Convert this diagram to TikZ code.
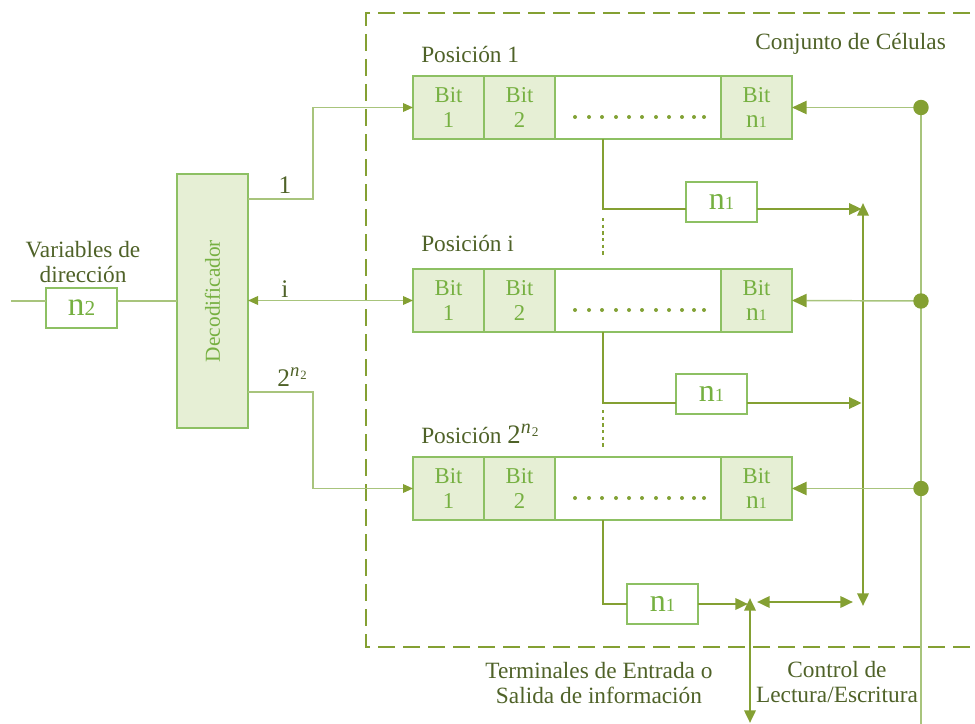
\documentclass[tikz,border=0pt]{standalone}
\usepackage{fontspec}
\setmainfont{Liberation Serif}
\usetikzlibrary{arrows.meta}

\definecolor{darktxt}{HTML}{4F6228}
\definecolor{bitgreen}{HTML}{76B041}
\definecolor{cellfill}{HTML}{E6EFD5}
\definecolor{cellline}{HTML}{8DC063}
\definecolor{busgreen}{HTML}{84A033}
\definecolor{thingreen}{HTML}{A8C47C}

\newcommand{\nsub}[2]{{\fontsize{#1}{#1}\selectfont n}{\fontsize{#2}{#2}\selectfont 1}}
\newcommand{\ntwo}{{\fontsize{25}{25}\selectfont n}{\fontsize{16}{16}\selectfont 2}}
% power of two with subscripted exponent: base size, exponent size, index size
\newcommand{\twopow}[3]{{\fontsize{#1}{#1}\selectfont 2}\raisebox{0.42em}{\fontsize{#2}{#2}\selectfont\itshape n\kern0.05em\raisebox{-0.18em}{\fontsize{#3}{#3}\selectfont\upshape 2}}}

\tikzset{
  cell/.style={draw=cellline, fill=cellfill, line width=1pt, minimum width=53.25pt,
    minimum height=47.25pt, inner sep=0pt, outer sep=0pt, anchor=north west,
    align=center, text=bitgreen, font=\fontsize{17}{18.75}\selectfont},
  dotcell/.style={draw=cellline, fill=white, line width=1pt, minimum width=124.5pt,
    minimum height=47.25pt, inner sep=0pt, outer sep=0pt, anchor=north west},
  nbox/.style={draw=cellline, fill=white, line width=0.9pt, minimum width=53.25pt,
    minimum height=30pt, inner sep=0pt, outer sep=0pt, anchor=north west, text=bitgreen},
  decbox/.style={draw=cellline, fill=cellfill, line width=1pt, minimum width=53.25pt,
    minimum height=190.5pt, inner sep=0pt, outer sep=0pt, anchor=north west},
  lbl/.style={text=darktxt, inner sep=0pt, font=\fontsize{17.5}{20}\selectfont},
  thinline/.style={draw=thingreen, line width=1.1pt},
  busline/.style={draw=busgreen, line width=1.9pt},
  dashframe/.style={draw=busgreen, line width=2pt, dash pattern=on 12.75pt off 6pt},
  dotcol/.style={draw=busgreen, line width=1.9pt, dash pattern=on 2.5pt off 2.5pt},
  smalltip/.style={-{Triangle[length=7.5pt,width=6.5pt,color=busgreen]}},
  bigtip/.style={-{Triangle[length=11pt,width=10pt,color=busgreen]}},
  bustip/.style={-{Triangle[length=9.5pt,width=8.5pt]}},
  busboth/.style={{Triangle[length=9.5pt,width=8.5pt]}-{Triangle[length=9.5pt,width=8.5pt]}},
}

% one register row: prefix, top edge
\newcommand{\register}[2]{%
  \node[cell] (#1a) at (413,#2) {Bit\\1};
  \node[cell] (#1b) at (#1a.north east) {Bit\\2};
  \node[dotcell] (#1d) at (#1b.north east) {};
  \node[cell] (#1n) at (#1d.north east) {Bit\\\nsub{19}{12}};
  \foreach \dx in {19,33,46,60,73,86,100,113,126,138,148}
    \fill[busgreen!85!bitgreen] (556+\dx,#2+41) circle (1.5pt);
}

\begin{document}
\begin{tikzpicture}[x=0.75pt,y=-0.75pt]
\useasboundingbox (0,0) rectangle (975,724);

% cell array frame
\draw[dashframe] (995,13) -- (366,13) -- (366,647) -- (995,647);

% registers
\register{ra}{76}
\register{rb}{269}
\register{rc}{457}

% decoder and address input
\node[decbox, label={[rotate=90, text=bitgreen, font=\fontsize{16}{18}\selectfont]center:Decodificador}] (dec) at (177,174) {};
\node[nbox] (nin) at (46,288) {\ntwo};
\coordinate (ain) at (11,301);
\draw[thinline] (ain) -- (ain -| nin.west);
\draw[thinline] (nin.east |- ain) -- (ain -| dec.west);

% decoder outputs
\coordinate (k1) at (313,199);
\coordinate (k3) at (313,392);
\draw[thinline, smalltip] (dec.east |- k1) -- (k1) |- (raa.west);
\draw[thinline, {Triangle[length=7.5pt,width=6.5pt,color=busgreen]}-{Triangle[length=7.5pt,width=6.5pt,color=busgreen]}] (dec.east |- rba.west) -- (rba.west);
\draw[thinline, smalltip] (dec.east |- k3) -- (k3) |- (rca.west);

% output buffers
\node[nbox] (oa) at (686,182) {\nsub{24}{14}};
\node[nbox] (ob) at (676,374) {\nsub{24}{14}};
\node[nbox] (oc) at (627,584) {\nsub{24}{14}};

% data bus
\coordinate (bustop) at (863,203);
\coordinate (busbot) at (863,606);
\draw[busline, busboth] (bustop) -- (busbot);

\coordinate (ta) at (603,209);
\coordinate (tb) at (603,403);
\coordinate (tc) at (603,604);
\draw[busline] (rad.south -| ta) -- (ta) -- (oa.west |- ta);
\draw[busline, bustip] (oa.east |- ta) -- ([xshift=-1pt]bustop |- ta);
\draw[busline] (rbd.south -| tb) -- (tb) -- (ob.west |- tb);
\draw[busline, bustip] (ob.east |- tb) -- ([xshift=-1pt]bustop |- tb);
\draw[busline] (rcd.south -| tc) -- (tc) -- (oc.west |- tc);
\coordinate (iojoin) at (748,604);
\draw[busline, bustip] (oc.east |- tc) -- (iojoin);

% input/output terminal and link to the bus
\coordinate (iotop) at (750,598);
\coordinate (iobot) at (750,723);
\draw[busline, busboth] (iotop) -- (iobot);
\coordinate (lka) at (757,602);
\coordinate (lkb) at (853,602);
\draw[busline, busboth] (lka) -- (lkb);

% continuation marks between rows
\draw[dotcol] (603,218) -- (603,255);
\draw[dotcol] (603,410) -- (603,447);

% read/write control
\coordinate (ca) at (921,107.5);
\coordinate (cb) at (921,301);
\coordinate (cc) at (921,488.5);
\coordinate (cbot) at (921,724);
\draw[thinline] (ca) -- (cbot);
\draw[thinline, bigtip] (ca) -- (ran.east);
\draw[thinline, bigtip] (cb) -- (rbn.east);
\draw[thinline, bigtip] (cc) -- (rcn.east);
\foreach \p in {ca,cb,cc} \fill[busgreen] (\p) circle (5.8pt);

% labels
\node[lbl, anchor=base west] (pa) at (421,63) {Posición 1};
\node[lbl, anchor=base west] (pb) at (421,251) {Posición i};
\node[lbl, anchor=base west] (pc) at (421,443) {Posición \twopow{20}{15}{10}};
\node[lbl, anchor=base west] (cel) at (755,50) {Conjunto de Células};
\node[lbl, anchor=base] (va) at (83,257) {Variables de};
\node[lbl, anchor=base] (vb) at (83,282) {dirección};
\node[lbl, anchor=base, font=\fontsize{19}{21}\selectfont] (la) at (285,193) {1};
\node[lbl, anchor=base, font=\fontsize{19}{21}\selectfont] (lb) at (285,297) {i};
\node[lbl, anchor=base] (lc) at (292,386) {\twopow{19}{14}{9.5}};
\node[lbl, anchor=base] (tea) at (599,678) {Terminales de Entrada o};
\node[lbl, anchor=base] (teb) at (599,703) {Salida de información};
\node[lbl, anchor=base] (coa) at (837,677) {Control de};
\node[lbl, anchor=base] (cob) at (837,702) {Lectura/Escritura};
\end{tikzpicture}
\end{document}
